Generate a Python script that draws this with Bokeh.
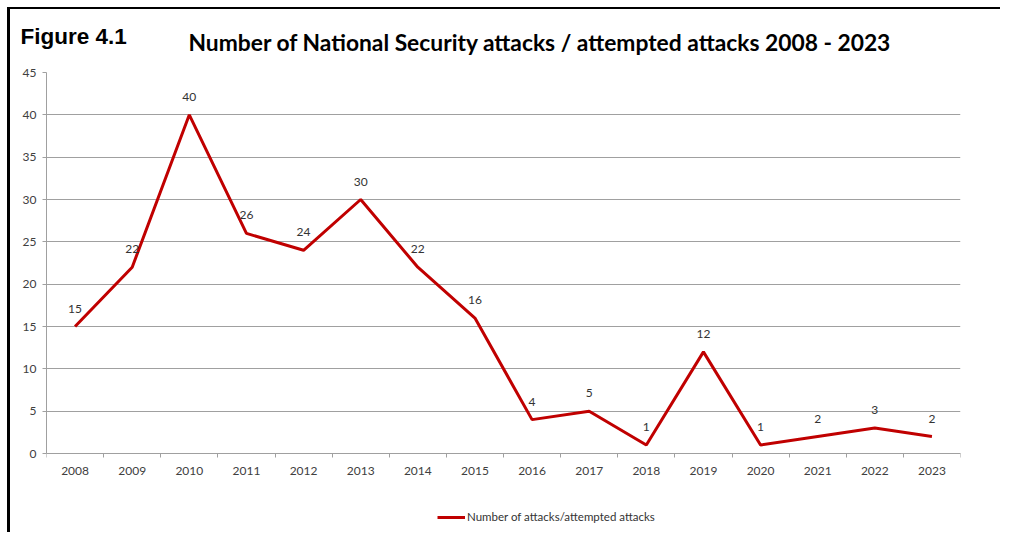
from bokeh.plotting import figure
from bokeh.models import (Range1d, FixedTicker, LabelSet, ColumnDataSource,
                          Legend, LegendItem, Title)
from bokeh.core.properties import value
from bokeh.embed import file_html
from bokeh.resources import INLINE

years = [2008, 2009, 2010, 2011, 2012, 2013, 2014, 2015,
         2016, 2017, 2018, 2019, 2020, 2021, 2022, 2023]
attacks = [15, 22, 40, 26, 24, 30, 22, 16, 4, 5, 1, 12, 1, 2, 3, 2]
y_ticks = [0, 5, 10, 15, 20, 25, 30, 35, 40, 45]
series_name = "Number of attacks/attempted attacks"
title_text = "Number of National Security attacks / attempted attacks 2008 - 2023"
figure_label = "Figure 4.1"

Y_MAX = 45
# the frame reaches below the zero line so that the legend can sit inside it
Y_LOW = -79 / (381 / Y_MAX)

p = figure(frame_width=914, frame_height=460, output_backend="svg", toolbar_location=None,
           x_range=Range1d(years[0] - 0.5, years[-1] + 0.5),
           y_range=Range1d(Y_LOW, Y_MAX),
           min_border_left=36, min_border_right=40,
           min_border_top=62, min_border_bottom=0)
p.styles = {"margin-top": "7px", "margin-left": "7px",
            "border-top": "2px solid black", "border-left": "3px solid black"}
p.outline_line_color = None
p.background_fill_color = "white"
p.border_fill_color = "white"

TICK_COLOR = "#404040"
GRID_COLOR = "#a0a0a0"
FONT = "Lato"

# titles: p.title is the outermost panel, the added Title sits next to the frame
p.title.text = figure_label
p.title.text_font = "Liberation Sans"
p.title.text_font_style = "bold"
p.title.text_font_size = "22.5px"
p.title.text_color = "black"
p.title.align = "left"
p.title.offset = -26
p.title.standoff = -79
p.add_layout(Title(text=title_text, text_font=FONT, text_font_style="bold",
                   text_font_size="22.8px", text_color="black", align="left",
                   offset=142, standoff=33), "above")

# y axis
p.yaxis.ticker = FixedTicker(ticks=y_ticks)
p.yaxis.bounds = (0, Y_MAX)
p.yaxis.axis_line_color = GRID_COLOR
p.yaxis.major_tick_line_color = GRID_COLOR
p.yaxis.major_tick_out = 4
p.yaxis.major_tick_in = 0
p.yaxis.minor_tick_line_color = None
p.yaxis.major_label_text_font = FONT
p.yaxis.major_label_text_font_size = "12px"
p.yaxis.major_label_text_color = TICK_COLOR
p.yaxis.major_label_standoff = 6

# x axis drawn on the zero line
p.xaxis.fixed_location = 0
p.xaxis.ticker = FixedTicker(ticks=years,
                             minor_ticks=[y - 0.5 for y in years] + [years[-1] + 0.5])
p.xaxis.axis_line_color = GRID_COLOR
p.xaxis.major_tick_line_color = None
p.xaxis.major_tick_out = 4
p.xaxis.minor_tick_line_color = GRID_COLOR
p.xaxis.minor_tick_out = 4
p.xaxis.minor_tick_in = 0
p.xaxis.major_label_text_font = FONT
p.xaxis.major_label_text_font_size = "12px"
p.xaxis.major_label_text_color = TICK_COLOR
p.xaxis.major_label_standoff = 9

p.xgrid.grid_line_color = None
p.ygrid.grid_line_color = GRID_COLOR
p.ygrid.grid_line_width = 1

src = ColumnDataSource(dict(x=years, y=attacks, lbl=[str(v) for v in attacks]))
line = p.line("x", "y", source=src, line_color="#c00000", line_width=3)

labels = LabelSet(x="x", y="y", text="lbl", source=src, y_offset=14,
                  text_align="center", text_baseline="bottom",
                  text_font=value(FONT), text_font_size="12px", text_color="#333333")
p.add_layout(labels)

legend = Legend(items=[LegendItem(label=series_name, renderers=[line])],
                location=(391, 9), orientation="horizontal",
                label_text_font=FONT, label_text_font_size="11.5px",
                label_text_color="#333333", glyph_width=28, glyph_height=8,
                border_line_color=None, background_fill_alpha=0,
                label_standoff=2, padding=0, margin=0)
p.add_layout(legend)

open("out.html", "w").write(file_html(p, INLINE))
